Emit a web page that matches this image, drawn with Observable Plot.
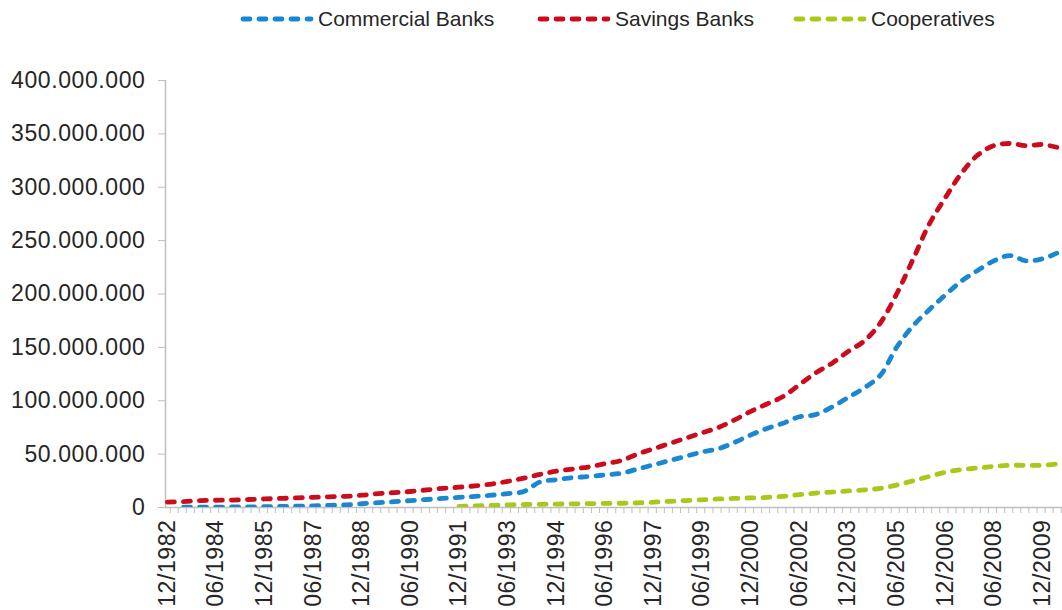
<!DOCTYPE html>
<html>
<head>
<meta charset="utf-8">
<script src="https://cdn.jsdelivr.net/npm/d3@7"></script>
<script src="https://cdn.jsdelivr.net/npm/@observablehq/plot@0.6"></script>
<style>
  html, body { margin: 0; padding: 0; background: #fff; }
  body { width: 1062px; height: 610px; overflow: hidden; position: relative; font-family: "Liberation Sans", Arial, sans-serif; }
  #legend { position: absolute; left: 0; top: 0; width: 1062px; height: 40px; }
  .item { position: absolute; top: 7px; height: 24px; display: flex; align-items: center; font-size: 21px; color: #262626; white-space: nowrap; }
  .item svg { margin-right: 4px; }
  #chart { position: absolute; left: 0; top: 40px; }
  #chart svg text { letter-spacing: 0.6px; }
</style>
</head>
<body>
<div id="legend"></div>
<div id="chart"></div>
<script>
// ---- data (values in millions) ----
const periods = ["12/1982","06/1983","12/1983","06/1984","12/1984","06/1985","12/1985","06/1986","12/1986","06/1987",
  "12/1987","06/1988","12/1988","06/1989","12/1989","06/1990","12/1990","06/1991","12/1991","06/1992",
  "12/1992","06/1993","12/1993","06/1994","12/1994","06/1995","12/1995","06/1996","12/1996","06/1997",
  "12/1997","06/1998","12/1998","06/1999","12/1999","06/2000","12/2000","06/2001","12/2001","06/2002",
  "12/2002","06/2003","12/2003","06/2004","12/2004","06/2005","12/2005","06/2006","12/2006","06/2007",
  "12/2007","06/2008","12/2008","06/2009","12/2009","06/2010"];
const commercialBanks = [null,0.3,0.3,0.4,0.5,0.6,0.8,1,1.2,1.5,
  2,2.5,3.5,4.5,5.5,6.5,7.5,8.5,9.5,10.5,
  11.5,13,15,24,26,28,29,30.5,32,36,
  40,44,48,52,55,61,68,74,79,85,
  87,94,103,112,124,150,170,185,199,212,
  222,231,236,231,233,239];
const savingsBanks = [5,5.5,6.5,6.8,7,7.5,8,8.5,9,9.5,
  10,10.5,11.5,13,14,15,16.5,18,19,20.3,
  22,24.5,27.5,31,34,36,38,41,44,50,
  55,60,65,70,75,82,90,97,104,115,
  126,135,146,156,173,200,232,265,290,313,
  330,339,341,339,340,337];
const cooperatives = [null,null,null,null,null,null,null,null,null,null,
  null,null,null,null,null,null,null,null,1,1.5,
  2,2.5,2.8,3,3.2,3.4,3.6,3.8,4,4.3,
  5,5.8,6.5,7.2,8,8.5,9,9.5,10.5,12,
  13.5,14.5,15.5,16.5,18,21,25,29,33,35.5,
  37,38.5,39.5,39.5,39.5,41];
const seriesNames = ["Commercial Banks","Savings Banks","Cooperatives"];
const seriesColors = ["#1a87d2","#cc0c1c","#a9c81a"];
const labelTicks = ["12/1982","06/1984","12/1985","06/1987","12/1988","06/1990","12/1991","06/1993","12/1994","06/1996",
  "12/1997","06/1999","12/2000","06/2002","12/2003","06/2005","12/2006","06/2008","12/2009"];
const yTicks = [0,50,100,150,200,250,300,350,400];

// ---- build table ----
const parse = s => { const [m, y] = s.split("/"); return new Date(Date.UTC(+y, +m - 1, 1)); };
const allSeries = [commercialBanks, savingsBanks, cooperatives];
const rows = [];
allSeries.forEach((vals, si) => vals.forEach((v, i) => {
  if (v != null) rows.push({series: seriesNames[si], date: parse(periods[i]), value: v});
}));

const xDomain = [new Date(Date.UTC(1982, 10, 9)), new Date(Date.UTC(2010, 6, 15))];
const minorTicks = d3.utcMonth.every(3).range(new Date(Date.UTC(1982, 10, 15)), xDomain[1]);

const loc = d3.formatLocale({decimal: ",", thousands: ".", grouping: [3], currency: ["", ""]});
const fmt = loc.format(",");
const gray = "#bfbfbf";
const textColor = "#262626";

const chart = Plot.plot({
  width: 1062,
  height: 570,
  marginTop: 40,
  marginBottom: 103,
  marginLeft: 165,
  marginRight: 0,
  style: {fontFamily: '"Liberation Sans", Arial, sans-serif', fontSize: "23px", color: textColor, background: "#fff"},
  x: {type: "utc", domain: xDomain},
  y: {domain: [0, 400]},
  color: {domain: seriesNames, range: seriesColors},
  marks: [
    Plot.ruleY([0], {stroke: gray, strokeWidth: 1.5}),
    Plot.ruleX([xDomain[0]], {y1: 0, y2: 400, stroke: gray, strokeWidth: 1.5}),
    Plot.axisY({ticks: yTicks, tickFormat: d => fmt(d * 1e6), tickSize: 7, tickPadding: 13, stroke: gray, fill: textColor, fontSize: 23, label: null}),
    Plot.axisX({ticks: minorTicks, tickFormat: () => "", tickSize: 6, stroke: gray, label: null}),
    Plot.axisX({ticks: labelTicks.map(parse), tickFormat: d3.utcFormat("%m/%Y"), tickSize: 0, tickPadding: 12, tickRotate: -90, fill: textColor, fontSize: 23, label: null}),
    Plot.line(rows, {x: "date", y: "value", z: "series", stroke: "series", strokeWidth: 4.8, strokeDasharray: "7,9", strokeLinecap: "round", curve: "catmull-rom", clip: true})
  ]
});
document.getElementById("chart").appendChild(chart);

// ---- legend ----
const legendPos = [240, 537, 793];
const legend = document.getElementById("legend");
seriesNames.forEach((name, i) => {
  const div = document.createElement("div");
  div.className = "item";
  div.style.left = legendPos[i] + "px";
  div.innerHTML = `<svg width="74" height="10"><line x1="3" y1="5" x2="71" y2="5" stroke="${seriesColors[i]}" stroke-width="4.8" stroke-dasharray="7,9" stroke-linecap="round"/></svg><span>${name}</span>`;
  legend.appendChild(div);
});
</script>
</body>
</html>
